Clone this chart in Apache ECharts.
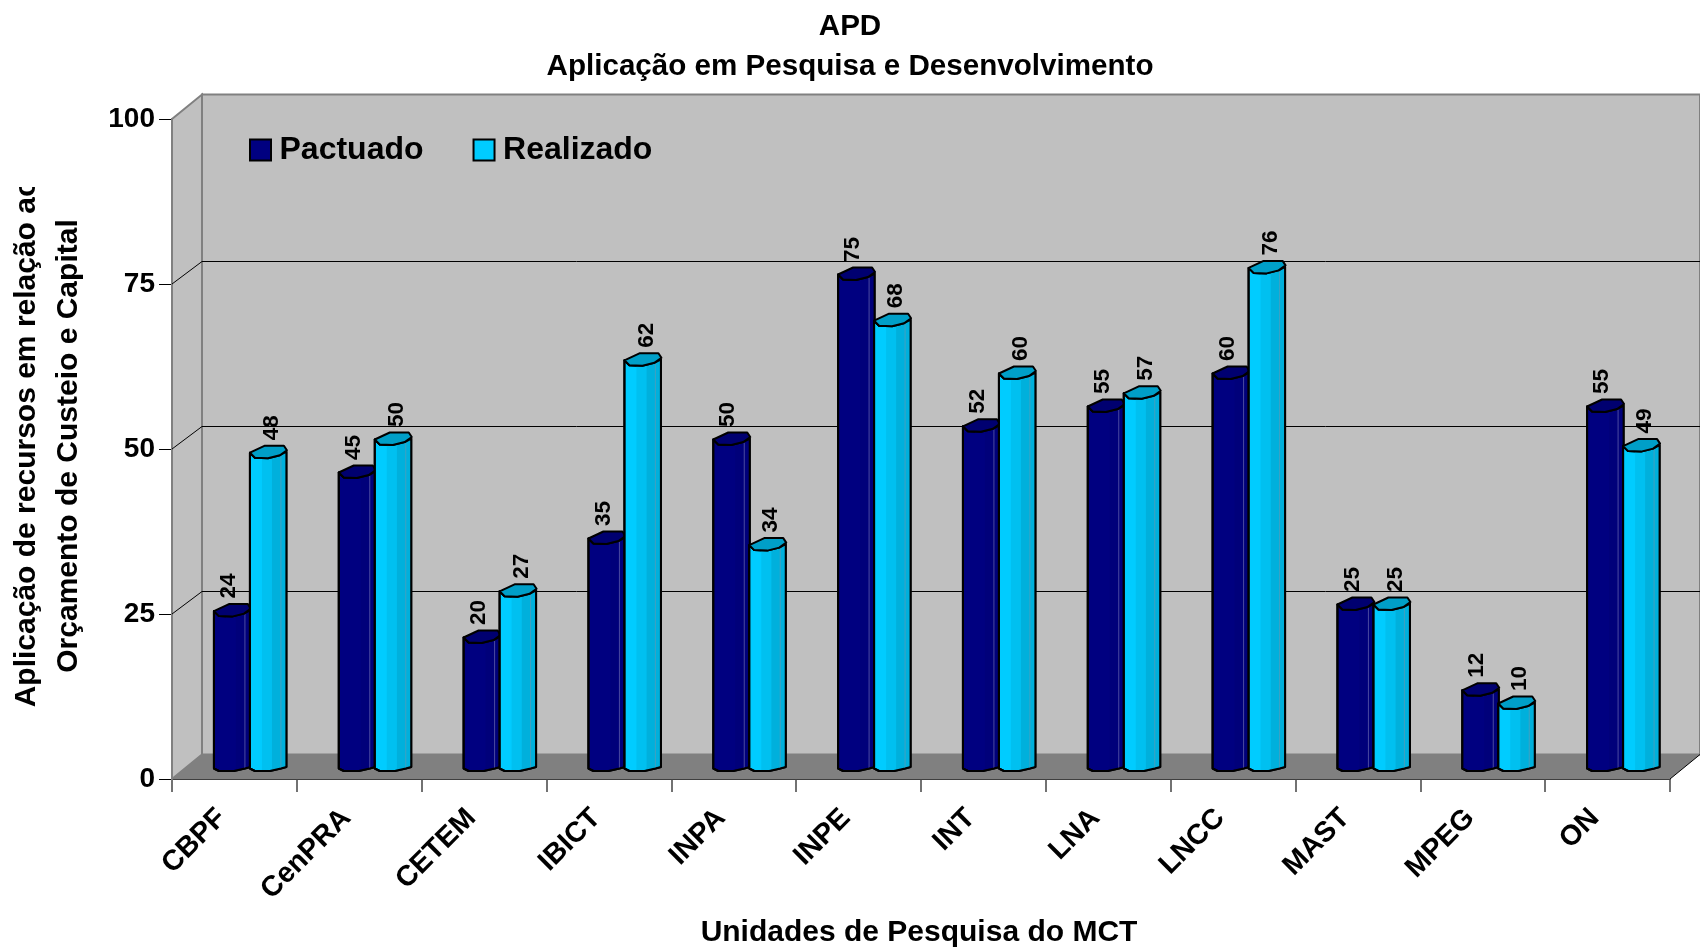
<!DOCTYPE html>
<html><head><meta charset="utf-8">
<style>html,body{margin:0;padding:0;background:#fff}#c{width:1700px;height:948px}</style>
<script src="https://cdn.jsdelivr.net/npm/echarts@6/dist/echarts.min.js"></script>
</head><body><div id="c"></div>
<script>
const categories = ['CBPF','CenPRA','CETEM','IBICT','INPA','INPE','INT','LNA','LNCC','MAST','MPEG','ON'];
const pactuado = [24,45,20,35,50,75,52,55,60,25,12,55];
const realizado = [48,50,27,62,34,68,60,57,76,25,10,49];
const yTicks = [0,25,50,75,100];

const FONT = '"Liberation Sans", Arial, sans-serif';
const WALL_DX = 30, WALL_DY = 24.5, GRID_DY = 22.5;
const BAR_W = 37, BAR_STEP = 36, BAR_OFF = -20.5, BASE_DY = 9.5;

function wallItem(params, api){
  const cs = params.coordSys;
  const L = cs.x, R = cs.x + cs.width;
  const y0 = api.coord([0, 0])[1], y100 = api.coord([0, 100])[1];
  const kids = [];
  const poly = (pts, fill, stroke, lw) => ({type:'polygon', shape:{points:pts},
    style:{fill:fill, stroke:stroke||'none', lineWidth:lw||0}});
  kids.push(poly([[L,y100],[L+WALL_DX,y100-WALL_DY],[L+WALL_DX,y0-WALL_DY],[L,y0]],'#c0c0c0','#808080',2));
  kids.push(poly([[L+WALL_DX,y100-WALL_DY],[R+WALL_DX,y100-WALL_DY],[R+WALL_DX,y0-WALL_DY],[L+WALL_DX,y0-WALL_DY]],'#c0c0c0','#808080',2));
  kids.push(poly([[L,y0],[L+WALL_DX,y0-WALL_DY],[R+WALL_DX,y0-WALL_DY],[R,y0]],'#808080','none',0));
  yTicks.forEach(t => {
    if (t === 0 || t === 100) return;
    const y = api.coord([0,t])[1];
    kids.push({type:'polyline', shape:{points:[[L,y],[L+WALL_DX,y-GRID_DY],[R+WALL_DX,y-GRID_DY]]},
      style:{fill:'none', stroke:'#000', lineWidth:1}});
  });
  kids.push({type:'polyline', shape:{points:[[R,y0],[R+WALL_DX,y0-WALL_DY]]}, style:{fill:'none',stroke:'#000',lineWidth:1}});
  return {type:'group', children:kids};
}

function barRender(pal, slot, labelDx){
  return function(params, api){
    const idx = api.value(0), val = api.value(1);
    const c = api.coord([idx, val]);
    const base = api.coord([idx, 0])[1] - BASE_DY;
    const x = c[0] + BAR_OFF + slot * BAR_STEP;
    const y = c[1] - BASE_DY;
    const S = {stroke:'#000', lineWidth:2, lineJoin:'round'};
    const kids = [];
    const outline = [
      [x,y],[x+5,y+5],[x+18,y+5.5],[x+30,y+2.5],[x+36.5,y-1],[x+36.5,base-2.5],
      [x+31,base-1],[x+20,base+1.5],[x+5,base+1.5],[x,base-1]];
    kids.push({type:'polygon', shape:{points:outline}, style:Object.assign({fill:pal[0]},S)});
    kids.push({type:'polygon', shape:{points:[
      [x+12,y+5.3],[x+22,y+5],[x+22,base+0.8],[x+12,base+0.8]]}, style:{fill:pal[1]}});
    kids.push({type:'polygon', shape:{points:[
      [x+22,y+5],[x+30,y+2.5],[x+36,y-1],[x+36,base-3],[x+30,base-1],[x+22,base+0.8]]}, style:{fill:pal[2]}});
    kids.push({type:'line', shape:{x1:x+31,y1:y+3,x2:x+31,y2:base-1}, style:{stroke:pal[4],lineWidth:1}});
    kids.push({type:'polygon', shape:{points:outline}, style:Object.assign({fill:'none'},S)});
    kids.push({type:'polygon', shape:{points:[
      [x,y],[x+15,y-7],[x+34,y-7],[x+37,y-2.5],[x+30,y+2.5],[x+18,y+5.5],[x+5,y+5]]},
      style:Object.assign({fill:pal[3]},S)});
    kids.push({type:'text', x:x+labelDx, y:y-12.5, rotation:Math.PI/2,
      style:{text:String(val), font:'bold 22.5px '+FONT, fill:'#000', align:'left', verticalAlign:'middle'}});
    return {type:'group', children:kids};
  };
}

const chart = echarts.init(document.getElementById('c'), null, {renderer:'canvas'});
chart.setOption({
  animation:false,
  backgroundColor:'#fff',
  grid:{left:172, right:30, top:119, bottom:169, containLabel:false, outerBoundsMode:'none'},
  title:[
    {text:'APD', left:845, textAlign:'center', top:7, textStyle:{fontFamily:FONT, fontWeight:'bold', fontSize:29.6, color:'#000'}},
    {text:'Aplicação em Pesquisa e Desenvolvimento', left:845, textAlign:'center', top:47, textStyle:{fontFamily:FONT, fontWeight:'bold', fontSize:29.6, color:'#000'}}
  ],
  legend:{left:244, top:129, itemWidth:21, itemHeight:21, itemGap:49, icon:'rect',
    data:['Pactuado','Realizado'],
    textStyle:{fontFamily:FONT, fontWeight:'bold', fontSize:32, color:'#000', padding:[0,0,0,3.5]},
    itemStyle:{borderColor:'#000', borderWidth:2}},
  xAxis:{type:'category', data:categories, boundaryGap:true,
    axisLine:{show:true, lineStyle:{color:'#000', width:1.5}},
    axisTick:{show:true, length:13, alignWithLabel:false, lineStyle:{color:'#444', width:1.5}},
    axisLabel:{rotate:45, interval:0, margin:22, padding:[0,18,0,0], fontFamily:FONT, fontWeight:'bold', fontSize:28.5, color:'#000'},
    name:'Unidades de Pesquisa do MCT', nameLocation:'middle', nameGap:139,
    nameTextStyle:{fontFamily:FONT, fontWeight:'bold', fontSize:30, color:'#000', padding:[0,4,0,0]},
    splitLine:{show:false}
  },
  yAxis:{type:'value', min:0, max:100, interval:25,
    axisLine:{show:true, lineStyle:{color:'#555', width:2}},
    axisTick:{show:true, length:13, lineStyle:{color:'#000', width:1}},
    axisLabel:{margin:17, fontFamily:FONT, fontWeight:'bold', fontSize:28, color:'#000'},
    splitLine:{show:false}
  },
  series:[
    {type:'custom', name:'wall', silent:true, z:1, clip:false, data:[[0,0]], renderItem:wallItem, legendHoverLink:false},
    {type:'custom', name:'Pactuado', z:3, clip:false, color:'#000080',
      data:pactuado.map((v,i)=>[i,v]), encode:{x:0,y:1},
      renderItem:barRender(['#000080','#000080','#00007a','#000070','#4a4aa0'],0,15)},
    {type:'custom', name:'Realizado', z:4, clip:false, color:'#00ccff',
      data:realizado.map((v,i)=>[i,v]), encode:{x:0,y:1},
      renderItem:barRender(['#00ccff','#00c0f0','#00b0dc','#009fc8','#40a0c0'],1,22)}
  ],
  graphic:[
    {type:'text', z:10, x:27, y:443, rotation:Math.PI/2,
      style:{text:'Aplicação de recursos em relação ao', font:'bold 30px '+FONT, fill:'#000', align:'center', verticalAlign:'middle'}},
    {type:'text', z:10, x:69, y:446, rotation:Math.PI/2,
      style:{text:'Orçamento de Custeio e Capital', font:'bold 30px '+FONT, fill:'#000', align:'center', verticalAlign:'middle'}},
    {type:'rect', z:11, shape:{x:0,y:160,width:47,height:27}, style:{fill:'#fff'}}
  ]
});
</script></body></html>
